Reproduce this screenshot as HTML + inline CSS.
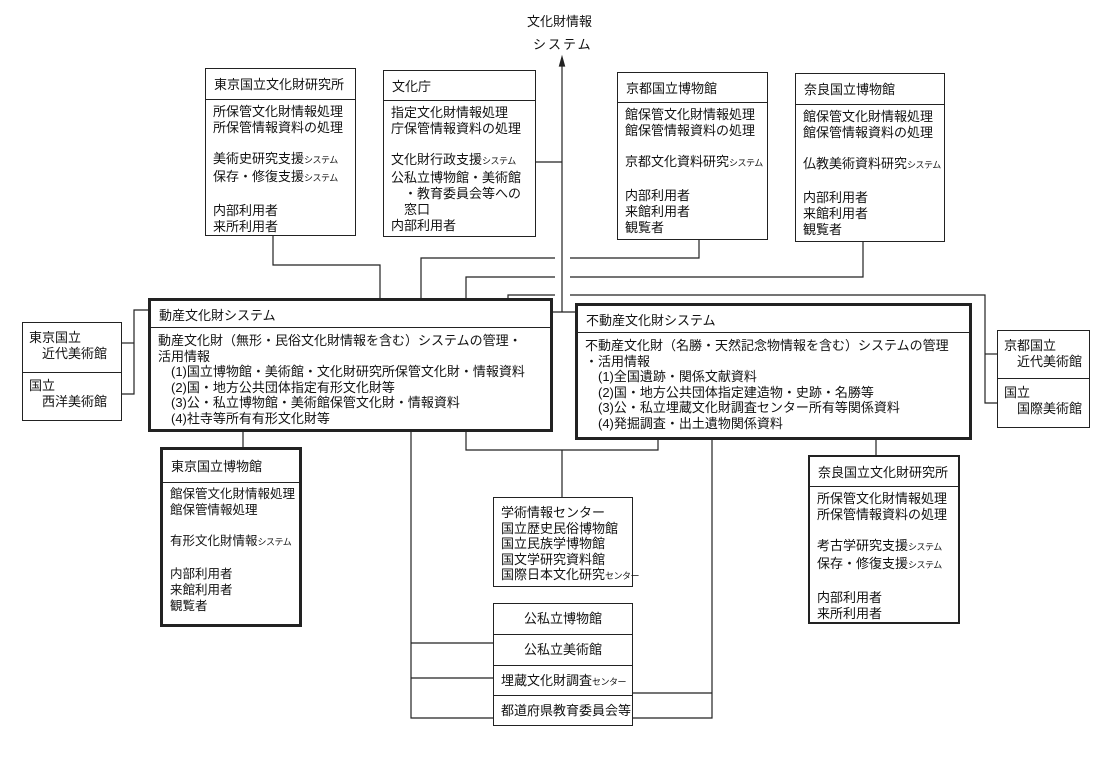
<!DOCTYPE html>
<html><head><meta charset="utf-8"><style>
body{margin:0;width:1100px;height:774px;background:#fff;position:relative;overflow:hidden;font-family:"Liberation Sans","Noto Sans CJK JP",sans-serif;color:#111}
.b{position:absolute;border:1.3px solid #222;box-sizing:border-box;background:#fff}
.t{border-width:3px}
.h{border-bottom:1.3px solid #222;font-size:13px;padding:5px 0 0 8px;box-sizing:border-box}
.c{font-size:13px;line-height:15.8px;padding:4px 0 0 7px;white-space:pre}
.s{font-size:9px;letter-spacing:-0.5px}
.abs{position:absolute;font-size:13px;white-space:pre;line-height:16.5px}
svg{position:absolute;left:0;top:0}
</style></head><body>
<svg width="1100" height="774" stroke="#222" stroke-width="1.2" fill="none">
<line x1="562" y1="62" x2="562" y2="312"/>
<polygon points="562,57 559.5,66 564.5,66" fill="#222"/>
<polyline points="273,236 273,265 380,265 380,298"/>
<line x1="536" y1="162" x2="562" y2="162"/>
<polyline points="421,298 421,258 555,258"/>
<polyline points="570,258 699,258 699,240"/>
<polyline points="466,298 466,277 555,277"/>
<polyline points="570,277 863,277 863,242"/>
<polyline points="508,298 508,295 555,295"/>
<polyline points="570,295 985,295 985,403 997,403"/>
<line x1="985" y1="354" x2="997" y2="354"/>
<line x1="553" y1="312" x2="575" y2="312"/>
<polyline points="148,310 134,310 134,394 122,394"/>
<line x1="122" y1="343" x2="134" y2="343"/>
<line x1="243" y1="432" x2="243" y2="447"/>
<polyline points="466,432 466,450 658,450 658,440"/>
<line x1="562" y1="450" x2="562" y2="497"/>
<polyline points="411,432 411,718 493,718"/>
<line x1="411" y1="643" x2="493" y2="643"/>
<line x1="411" y1="678" x2="493" y2="678"/>
<polyline points="712,440 712,718 633,718"/>
<line x1="633" y1="693" x2="712" y2="693"/>
<line x1="876" y1="440" x2="876" y2="455"/>
</svg>

<div class="abs" style="left:527px;top:14px">文化財情報</div>
<div class="abs" style="left:533px;top:37px;letter-spacing:2px">システム</div>

<div class="b" style="left:205px;top:68px;width:151px;height:168px"><div class="h" style="height:31px">東京国立文化財研究所</div><div class="c">所保管文化財情報処理
所保管情報資料の処理

美術史研究支援<span class="s">システム</span>
保存・修復支援<span class="s">システム</span>

内部利用者
来所利用者</div></div>

<div class="b" style="left:383px;top:70px;width:153px;height:167px"><div class="h" style="height:30px">文化庁</div><div class="c">指定文化財情報処理
庁保管情報資料の処理

文化財行政支援<span class="s">システム</span>
公私立博物館・美術館
　・教育委員会等への
　窓口
内部利用者</div></div>

<div class="b" style="left:617px;top:72px;width:151px;height:168px"><div class="h" style="height:30px">京都国立博物館</div><div class="c">館保管文化財情報処理
館保管情報資料の処理

京都文化資料研究<span class="s">システム</span>

内部利用者
来館利用者
観覧者</div></div>

<div class="b" style="left:795px;top:73px;width:150px;height:169px"><div class="h" style="height:31px">奈良国立博物館</div><div class="c">館保管文化財情報処理
館保管情報資料の処理

仏教美術資料研究<span class="s">システム</span>

内部利用者
来館利用者
観覧者</div></div>

<div class="b" style="left:22px;top:322px;width:100px;height:99px"><div class="c" style="padding:7px 0 0 6px;height:50px;box-sizing:border-box;border-bottom:1.3px solid #222">東京国立
　近代美術館</div><div class="c" style="padding:5px 0 0 6px">国立
　西洋美術館</div></div>

<div class="b" style="left:997px;top:330px;width:93px;height:98px"><div class="c" style="padding:7px 0 0 6px;height:48px;box-sizing:border-box;border-bottom:1.3px solid #222">京都国立
　近代美術館</div><div class="c" style="padding:6px 0 0 6px">国立
　国際美術館</div></div>

<div class="b t" style="left:148px;top:298px;width:405px;height:134px"><div class="h" style="height:27px;padding-top:4px">動産文化財システム</div><div class="c" style="line-height:15.5px;padding-top:5px">動産文化財（無形・民俗文化財情報を含む）システムの管理・
活用情報
　(1)国立博物館・美術館・文化財研究所保管文化財・情報資料
　(2)国・地方公共団体指定有形文化財等
　(3)公・私立博物館・美術館保管文化財・情報資料
　(4)社寺等所有有形文化財等</div></div>

<div class="b t" style="left:575px;top:303px;width:397px;height:137px"><div class="h" style="height:27px;padding-top:4px">不動産文化財システム</div><div class="c" style="line-height:15.5px;padding-top:5px">不動産文化財（名勝・天然記念物情報を含む）システムの管理
・活用情報
　(1)全国遺跡・関係文献資料
　(2)国・地方公共団体指定建造物・史跡・名勝等
　(3)公・私立埋蔵文化財調査センター所有等関係資料
　(4)発掘調査・出土遺物関係資料</div></div>

<div class="b t" style="left:160px;top:447px;width:142px;height:180px"><div class="h" style="height:33px;padding-top:6px">東京国立博物館</div><div class="c" style="font-size:12.5px">館保管文化財情報処理
館保管情報処理

有形文化財情報<span class="s">システム</span>

内部利用者
来館利用者
観覧者</div></div>

<div class="b" style="left:493px;top:497px;width:140px;height:90px"><div class="c" style="padding-top:7px;line-height:15.5px">学術情報センター
国立歴史民俗博物館
国立民族学博物館
国文学研究資料館
国際日本文化研究<span class="s">センター</span></div></div>

<div class="b" style="left:493px;top:603px;width:140px;height:32px;font-size:13px;text-align:center;line-height:30px">公私立博物館</div>
<div class="b" style="left:493px;top:634px;width:140px;height:32px;font-size:13px;text-align:center;line-height:30px">公私立美術館</div>
<div class="b" style="left:493px;top:665px;width:140px;height:31px;font-size:13px;padding-left:7px;line-height:29px">埋蔵文化財調査<span class="s">センター</span></div>
<div class="b" style="left:493px;top:695px;width:140px;height:31px;font-size:13px;padding-left:7px;line-height:29px">都道府県教育委員会等</div>

<div class="b" style="left:808px;top:455px;width:152px;height:169px;border-width:2px"><div class="h" style="height:30px">奈良国立文化財研究所</div><div class="c">所保管文化財情報処理
所保管情報資料の処理

考古学研究支援<span class="s">システム</span>
保存・修復支援<span class="s">システム</span>

内部利用者
来所利用者</div></div>
</body></html>
